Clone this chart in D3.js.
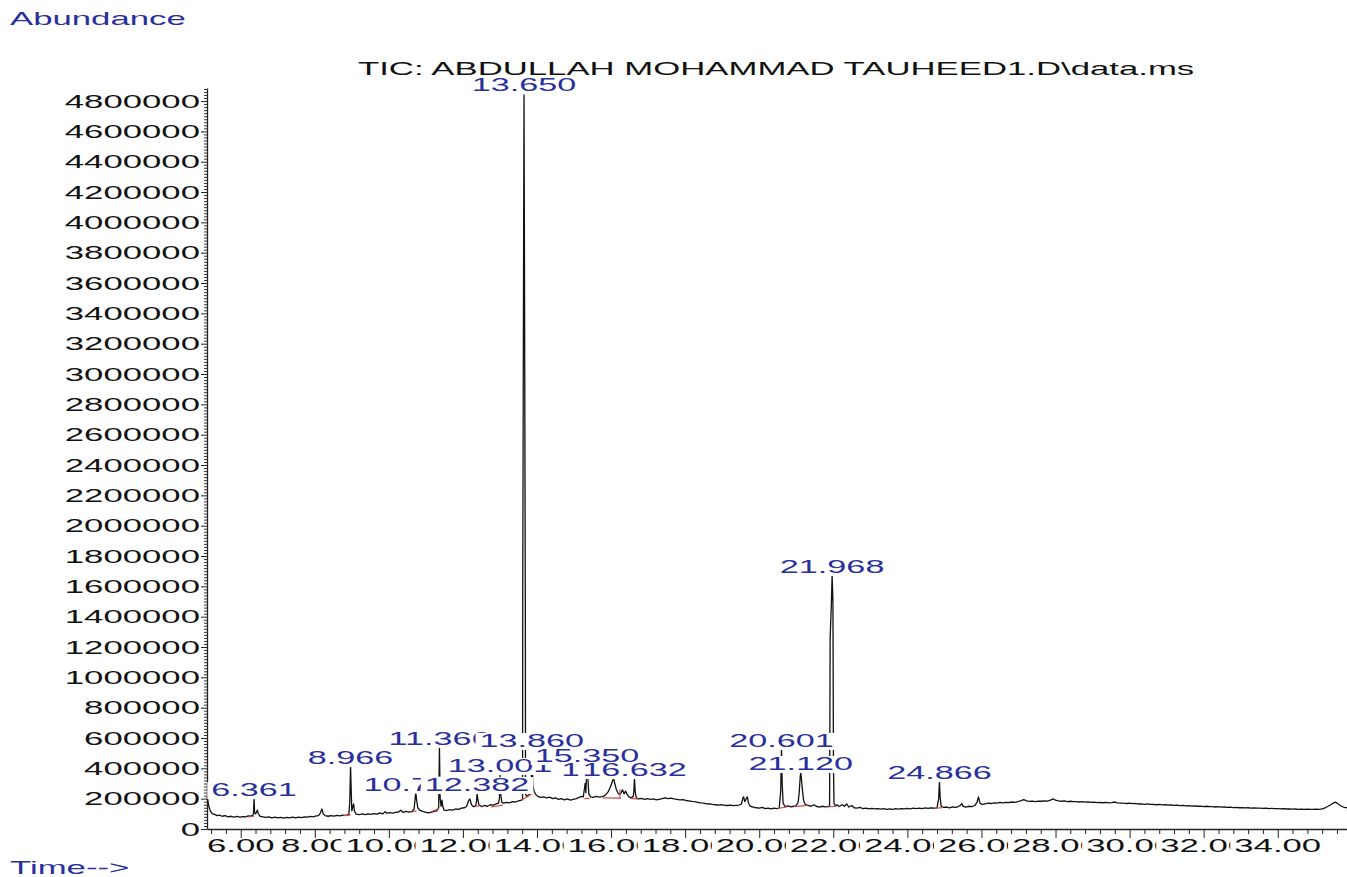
<!DOCTYPE html>
<html>
<head>
<meta charset="utf-8">
<script src="https://cdn.jsdelivr.net/npm/d3@7"></script>
<style>
  body { margin: 0; background: #fff; }
  svg { display: block; }
  text { font-family: "Liberation Sans", Arial, sans-serif; font-size: 18px; }
</style>
</head>
<body>
<svg id="chart" width="1347" height="877"></svg>
<script>
// Total ion chromatogram: [retention time (min), abundance (thousands of counts)]
const ticTrace = [
  [5.09,211],[5.11,190],[5.14,150],[5.18,118],[5.23,102],[5.30,96],[5.36,88],[5.42,92],[5.50,84],[5.58,88],
  [5.66,80],[5.74,84],[5.82,79],[5.90,83],[5.98,78],[6.06,82],[6.14,80],[6.20,86],[6.26,84],[6.32,90],
  [6.345,100],[6.361,204],[6.375,110],[6.40,100],[6.43,112],[6.45,125],[6.47,104],[6.52,84],[6.60,80],
  [6.68,76],[6.76,80],[6.84,74],[6.92,78],[7.00,73],[7.08,77],[7.16,72],[7.24,76],[7.32,73],[7.40,78],
  [7.48,74],[7.56,79],[7.64,75],[7.72,80],[7.80,78],[7.88,83],[7.96,80],[8.04,86],[8.10,88],[8.15,105],
  [8.19,132],[8.23,100],[8.28,88],[8.36,84],[8.44,88],[8.52,85],[8.60,90],[8.68,87],[8.76,92],[8.84,90],
  [8.92,96],[8.945,180],[8.966,415],[8.985,240],[9.00,120],[9.03,150],[9.05,165],[9.07,118],[9.12,98],
  [9.20,95],[9.28,99],[9.36,94],[9.44,100],[9.52,96],[9.60,102],[9.68,98],[9.76,106],[9.84,100],[9.90,114],
  [9.95,104],[10.02,108],[10.10,104],[10.18,110],[10.26,112],[10.32,124],[10.38,110],[10.46,116],[10.54,112],
  [10.62,115],[10.68,130],[10.71,200],[10.727,240],[10.75,190],[10.78,140],[10.83,125],[10.90,118],
  [10.98,112],[11.06,106],[11.14,110],[11.22,116],[11.30,120],[11.345,140],[11.366,541],[11.385,200],
  [11.41,150],[11.435,190],[11.455,150],[11.49,125],[11.56,122],[11.64,128],[11.72,124],[11.80,132],
  [11.88,130],[11.96,138],[12.04,140],[12.10,150],[12.15,185],[12.19,198],[12.23,160],[12.28,148],
  [12.34,150],[12.365,175],[12.382,237],[12.40,200],[12.43,160],[12.50,148],[12.58,155],[12.66,150],
  [12.74,160],[12.82,158],[12.90,165],[12.96,170],[12.985,200],[13.001,363],[13.02,230],[13.05,175],
  [13.10,170],[13.18,175],[13.26,172],[13.34,180],[13.42,178],[13.50,185],[13.58,190],[13.61,195],
  [13.615,1500],[13.635,3500],[13.65,4850],[13.665,3450],[13.685,1480],[13.69,230],[13.72,215],[13.78,225],
  [13.83,240],[13.845,300],[13.86,528],[13.875,400],[13.89,290],[13.92,250],[13.96,230],[14.02,215],
  [14.10,208],[14.18,212],[14.26,205],[14.34,210],[14.42,200],[14.50,206],[14.58,195],[14.66,200],
  [14.74,192],[14.82,198],[14.90,190],[14.98,195],[15.06,200],[15.14,208],[15.20,215],[15.25,212],
  [15.30,300],[15.32,240],[15.35,429],[15.38,310],[15.40,230],[15.45,212],[15.52,208],[15.60,215],
  [15.68,210],[15.76,214],[15.84,222],[15.92,245],[15.98,275],[16.03,310],[16.065,336],[16.10,300],
  [16.14,262],[16.18,240],[16.22,228],[16.27,238],[16.31,258],[16.35,232],[16.39,250],[16.43,230],
  [16.48,212],[16.54,205],[16.60,215],[16.615,250],[16.632,336],[16.65,250],[16.68,205],[16.74,198],
  [16.82,202],[16.90,196],[16.98,200],[17.06,195],[17.14,198],[17.22,192],[17.30,196],[17.38,200],
  [17.46,206],[17.54,200],[17.62,204],[17.70,198],[17.78,195],[17.86,192],[17.94,194],[18.02,188],
  [18.10,186],[18.18,182],[18.26,180],[18.34,176],[18.42,172],[18.50,170],[18.58,166],[18.66,165],
  [18.74,162],[18.82,160],[18.90,158],[18.98,160],[19.06,156],[19.14,155],[19.22,157],[19.30,154],
  [19.38,156],[19.46,158],[19.52,165],[19.56,205],[19.58,212],[19.61,180],[19.65,200],[19.68,212],
  [19.71,170],[19.76,150],[19.84,145],[19.92,140],[20.00,138],[20.08,142],[20.16,134],[20.24,138],
  [20.32,133],[20.40,137],[20.48,134],[20.54,138],[20.58,250],[20.601,528],[20.62,300],[20.645,170],
  [20.70,148],[20.78,152],[20.86,146],[20.94,150],[21.00,155],[21.05,175],[21.08,240],[21.10,320],
  [21.12,376],[21.14,330],[21.17,250],[21.20,185],[21.25,160],[21.32,155],[21.40,150],[21.48,160],
  [21.54,150],[21.62,145],[21.70,150],[21.78,146],[21.85,148],[21.90,152],[21.915,1260],[21.95,1500],
  [21.968,1675],[21.99,1500],[22.005,400],[22.02,165],[22.06,152],[22.10,160],[22.16,148],[22.24,160],
  [22.30,150],[22.36,165],[22.42,145],[22.50,155],[22.56,140],[22.64,138],[22.72,142],[22.80,135],
  [22.88,138],[22.96,133],[23.04,136],[23.12,132],[23.20,135],[23.28,131],[23.36,134],[23.44,130],
  [23.52,133],[23.60,130],[23.68,134],[23.76,131],[23.84,135],[23.92,132],[24.00,136],[24.08,133],
  [24.16,137],[24.24,134],[24.32,138],[24.40,135],[24.48,139],[24.56,136],[24.64,140],[24.72,137],
  [24.80,140],[24.845,200],[24.866,316],[24.885,210],[24.91,150],[24.98,142],[25.06,145],[25.14,140],
  [25.22,146],[25.30,142],[25.38,148],[25.44,158],[25.47,168],[25.50,150],[25.58,145],[25.66,150],
  [25.74,148],[25.82,155],[25.88,175],[25.92,212],[25.96,170],[26.02,162],[26.10,166],[26.18,170],
  [26.26,168],[26.34,172],[26.42,170],[26.50,175],[26.58,172],[26.66,176],[26.74,174],[26.82,178],
  [26.90,176],[26.98,180],[27.06,185],[27.14,194],[27.22,186],[27.30,182],[27.38,184],[27.46,181],
  [27.54,184],[27.62,183],[27.70,186],[27.78,184],[27.86,190],[27.94,198],[28.00,190],[28.08,186],
  [28.16,183],[28.24,185],[28.32,181],[28.40,183],[28.48,180],[28.56,181],[28.64,178],[28.72,180],
  [28.80,177],[28.88,178],[28.96,176],[29.04,177],[29.12,174],[29.20,176],[29.28,173],[29.36,175],
  [29.44,172],[29.52,174],[29.60,178],[29.68,172],[29.76,170],[29.84,171],[29.92,168],[30.00,170],
  [30.08,167],[30.16,168],[30.24,165],[30.32,166],[30.40,163],[30.48,165],[30.56,162],[30.64,163],
  [30.72,160],[30.80,162],[30.88,159],[30.96,160],[31.04,157],[31.12,159],[31.20,156],[31.28,157],
  [31.36,154],[31.44,156],[31.52,153],[31.60,154],[31.68,151],[31.76,153],[31.84,150],[31.92,151],
  [32.00,148],[32.08,150],[32.16,147],[32.24,148],[32.32,145],[32.40,147],[32.48,144],[32.56,145],
  [32.64,142],[32.72,144],[32.80,141],[32.88,142],[32.96,140],[33.04,141],[33.12,139],[33.20,140],
  [33.28,138],[33.36,139],[33.44,137],[33.52,138],[33.60,136],[33.68,137],[33.76,135],[33.84,136],
  [33.92,134],[34.00,135],[34.08,133],[34.16,134],[34.24,132],[34.32,133],[34.40,131],[34.48,132],
  [34.56,130],[34.64,131],[34.72,130],[34.80,131],[34.88,129],[34.96,130],[35.04,131],[35.12,130],
  [35.20,133],[35.28,140],[35.36,150],[35.44,162],[35.50,171],[35.55,177],[35.60,171],[35.66,160],
  [35.72,150],[35.80,143],[35.87,140]
];

// Integrated peaks: label text and apex abundance (thousands)
const peakLabels = ["6.361","8.966","10.727","11.366","12.382","13.001","13.650","13.860",
                    "15.350","16.065","16.632","20.601","21.120","21.968","24.866"];
const peakApex   = [204, 415, 240, 541, 237, 363, 4850, 528, 429, 336, 336, 528, 376, 1675, 316];

// Integration baselines: [t1, a1, t2, a2]
const baselineSegments = [
  [6.20,80,6.36,84],[8.77,88,8.96,92],[10.62,112,10.75,120],[11.12,112,11.36,135],
  [12.33,150,12.45,152],[12.75,145,13.08,158],[13.58,190,13.90,237],[15.28,200,15.42,202],
  [15.78,205,16.26,203],[16.24,203,16.24,262],[16.55,200,16.72,198],[20.50,135,20.75,146],
  [20.95,148,21.30,156],[21.85,145,22.08,150],[24.75,138,24.95,140]
];

const xTicks = [6, 8, 10, 12, 14, 16, 18, 20, 22, 24, 26, 28, 30, 32, 34];
const yTicks = [0, 200000, 400000, 600000, 800000, 1000000, 1200000, 1400000, 1600000,
                1800000, 2000000, 2200000, 2400000, 2600000, 2800000, 3000000, 3200000,
                3400000, 3600000, 3800000, 4000000, 4200000, 4400000, 4600000, 4800000];

const BLUE = "#2a2f9e";

const svg = d3.select("#chart");
const x = d3.scaleLinear().domain([5.09, 35.87]).range([207, 1347]);
const y = d3.scaleLinear().domain([0, 4886000]).range([829, 88]);

// wide print-style text, optionally on a white backing box that hides what lies beneath
function wideText(str, px, py, anchor, color, boxed, sx) {
  const g = svg.append("g").attr("transform", `translate(${px},${py}) scale(${sx},1)`);
  const t = g.append("text").attr("text-anchor", anchor).attr("fill", color).text(str);
  if (boxed) {
    const b = t.node().getBBox();
    const pad = 4 / sx;
    g.insert("rect", "text")
      .attr("x", b.x - pad).attr("width", b.width + 2 * pad)
      .attr("y", -14).attr("height", 17)
      .attr("fill", "#fff");
  }
  return g;
}

// axes
const xMinor = d3.range(5.2, 35.8, 0.4).filter(v => Math.abs(v / 2 - Math.round(v / 2)) > 0.01);
svg.append("g").attr("transform", "translate(0,829)")
  .call(d3.axisBottom(x).tickValues(xMinor).tickSize(5).tickFormat("").tickSizeOuter(0))
  .call(g => g.select(".domain").remove())
  .selectAll("line").attr("stroke", "#222");
svg.append("g").attr("transform", "translate(0,829)")
  .call(d3.axisBottom(x).tickValues(xTicks).tickSize(9).tickFormat("").tickSizeOuter(0))
  .call(g => g.select(".domain").attr("stroke", "#222").attr("stroke-width", 1.3))
  .selectAll("line").attr("stroke", "#222");

const yMinor = d3.range(0, 4880001, 20000).filter(v => v % 200000 !== 0);
svg.append("g").attr("transform", "translate(207,0)")
  .call(d3.axisLeft(y).tickValues(yMinor).tickSize(3).tickFormat("").tickSizeOuter(0))
  .call(g => g.select(".domain").remove())
  .selectAll("line").attr("stroke", "#333");
svg.append("g").attr("transform", "translate(207,0)")
  .call(d3.axisLeft(y).tickValues(yTicks).tickSize(6).tickFormat("").tickSizeOuter(0))
  .call(g => g.select(".domain").attr("stroke", "#222").attr("stroke-width", 1.3))
  .selectAll("line").attr("stroke", "#222");

yTicks.forEach(v => wideText(String(v), 200, y(v) + 6.5, "end", "#111", false, 1.93));
xTicks.forEach(v => wideText(d3.format(".2f")(v), x(v), 852, "middle", "#111", true, 1.93));

// chromatogram trace
const line = d3.line().x(d => x(d[0])).y(d => y(d[1] * 1000));
svg.append("path").datum(ticTrace)
  .attr("d", line).attr("fill", "none")
  .attr("stroke", "#111").attr("stroke-width", 1.3).attr("stroke-linejoin", "round");

// integration baselines
svg.append("g").selectAll("line").data(baselineSegments).join("line")
  .attr("x1", d => x(d[0])).attr("y1", d => y(d[1] * 1000))
  .attr("x2", d => x(d[2])).attr("y2", d => y(d[3] * 1000))
  .attr("stroke", "#d04a4a").attr("stroke-width", 1.2);

// retention time labels, drawn in elution order just above each apex
peakLabels.forEach((lab, i) => {
  wideText(lab, x(+lab), y(peakApex[i] * 1000) - 2, "middle", BLUE, true, 1.9);
});

// titles
wideText("Abundance", 10, 25, "start", BLUE, false, 1.93);
wideText("Time-->", 10, 874, "start", BLUE, false, 1.93);
wideText("TIC: ABDULLAH MOHAMMAD TAUHEED1.D\\data.ms", 358, 75, "start", "#111", false, 1.93);
</script>
</body>
</html>
